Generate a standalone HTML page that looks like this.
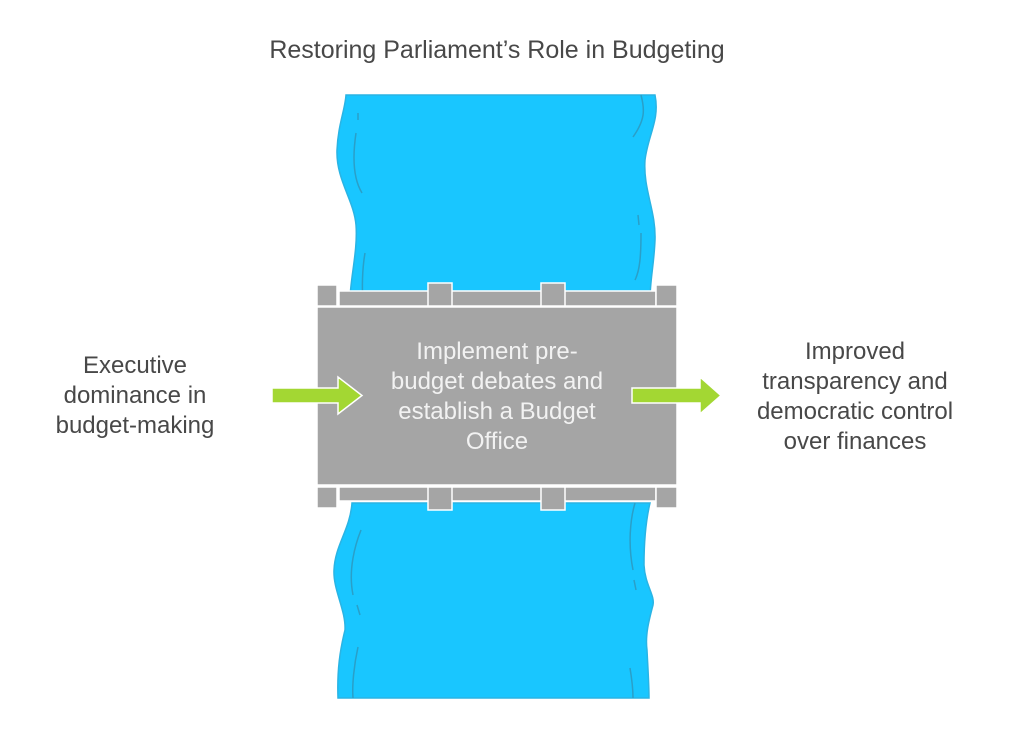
<!DOCTYPE html>
<html><head><meta charset="utf-8"><style>
body{margin:0;width:1024px;height:733px;background:#fff;overflow:hidden;position:relative;font-family:"Liberation Sans",sans-serif}
.t{position:absolute;text-align:center;font-size:24px;line-height:30px;color:#484848;white-space:nowrap}
</style></head><body>
<svg width="1024" height="733" style="position:absolute;left:0;top:0">
<path d="M346,95 L655,95 C660,120 648,135 645,160 C643,190 656,210 655,240 C654,265 650,280 650,300 L350,300 C350,280 358,250 356,225 C354,200 336,180 337,150 C338,125 345,110 346,95Z" fill="#19c6ff" stroke="#2ab4e4" stroke-width="1.5"/>
<path d="M358,113 L358,120 M356,133 C352,160 354,180 362,193 M365,253 C362,270 362,290 363,300 M641,95 C645,110 645,120 633,137 M638,215 L639,225 M641,233 C641,255 640,270 635,280" stroke="#2a9fc8" stroke-width="1.5" fill="none"/>
<path d="M352,503 L650,503 C646,520 644,540 644,565 C645,585 655,595 653,605 C649,620 645,635 647,650 C648,670 649,685 649,698 L338,698 C337,670 340,650 345,630 C346,610 333,590 334,570 C335,545 350,530 352,503Z" fill="#19c6ff" stroke="#2ab4e4" stroke-width="1.5"/>
<path d="M361,530 C355,545 348,570 353,595 M357,605 L360,615 M358,647 C354,665 352,685 353,698 M635,503 C630,520 628,545 633,570 M634,580 L636,590 M630,668 C632,680 633,690 633,698" stroke="#2a9fc8" stroke-width="1.5" fill="none"/>
<g fill="#a5a5a5" stroke="#fff" stroke-width="1.5">
<rect x="339" y="291" width="317" height="15"/>
<rect x="317" y="285" width="20" height="21"/>
<rect x="428" y="283" width="24" height="23"/>
<rect x="541" y="283" width="24" height="23"/>
<rect x="656" y="285" width="21" height="21"/>
<rect x="339" y="487" width="317" height="14"/>
<rect x="317" y="487" width="20" height="21"/>
<rect x="428" y="487" width="24" height="23"/>
<rect x="541" y="487" width="24" height="23"/>
<rect x="656" y="487" width="21" height="21"/>
<rect x="317" y="307" width="360" height="178"/>
</g>
<g fill="#a3d733" stroke="#fff" stroke-width="1.5">
<path d="M272,388 L338,388 L338,377 L362,395.5 L338,414 L338,403 L272,403Z"/>
<path d="M632,388 L700,388 L700,377 L721,395.5 L700,414 L700,403 L632,403Z"/>
</g>
</svg>
<div class="t" style="left:197px;top:35px;width:600px;font-size:25px">Restoring Parliament’s Role in Budgeting</div>
<div class="t" style="left:15px;top:351px;width:240px">Executive<br>dominance in<br>budget-making</div>
<div class="t" style="left:725px;top:337px;width:260px">Improved<br>transparency and<br>democratic control<br>over finances</div>
<div class="t" style="left:367px;top:337px;width:260px;color:#f2f2f2">Implement pre-<br>budget debates and<br>establish a Budget<br>Office</div>
</body></html>
